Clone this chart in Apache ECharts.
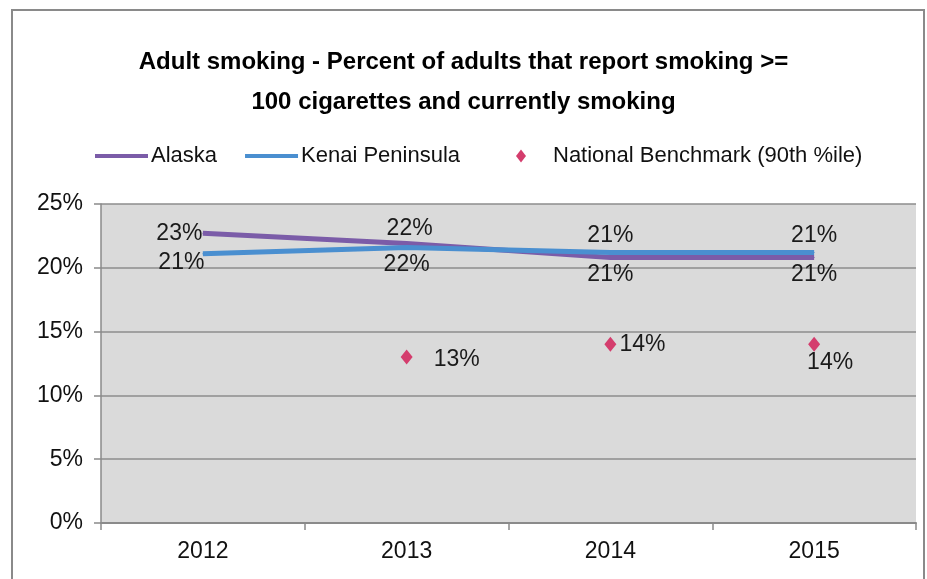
<!DOCTYPE html>
<html>
<head>
<meta charset="utf-8">
<script src="https://cdn.jsdelivr.net/npm/echarts@6/dist/echarts.min.js"></script>
<style>
  html, body { margin: 0; padding: 0; background: #fff; }
  #chart { width: 927px; height: 579px; }
</style>
</head>
<body>
<div id="chart"></div>
<script>
var years = ['2012', '2013', '2014', '2015'];
var alaska = [22.7, 21.9, 20.8, 20.8];
var kenai = [21.1, 21.6, 21.2, 21.2];
var benchmark = [null, 13, 14, 14];

// label placement per point, as in the original
var alaskaPos = ['left', 'top', 'bottom', 'bottom'];
var kenaiPos = ['left', 'bottom', 'top', 'top'];
var benchPos = [null, 'right', 'right', 'bottom'];

var font = '"Liberation Sans", Arial, sans-serif';

function pct(p) {
    return Math.round(p.value) + '%';
}

function withLabels(values, positions, extra) {
    return values.map(function (v, i) {
        if (v === null) return null;
        var lab = { position: positions[i] };
        if (extra && extra[i]) lab.offset = extra[i];
        return { value: v, label: lab };
    });
}

window.onload = function () {
    var myChart = echarts.init(document.getElementById('chart'));
    var labelStyle = {
        show: true,
        formatter: pct,
        fontFamily: font,
        fontSize: 23,
        color: '#1a1a1a',
        distance: 5
    };
    var option = {
        backgroundColor: '#fff',
        animation: false,
        graphic: [{
            type: 'rect',
            shape: { x: 12, y: 10, width: 912, height: 620 },
            style: { fill: 'none', stroke: '#8a8a8a', lineWidth: 2 },
            silent: true
        }],
        title: {
            text: 'Adult smoking - Percent of adults that report smoking >=\n100 cigarettes and currently smoking',
            left: 'center',
            top: 37,
            textStyle: {
                fontFamily: font,
                fontWeight: 'bold',
                fontSize: 24,
                lineHeight: 40,
                color: '#000'
            }
        },
        legend: [{
            data: ['Alaska', 'Kenai Peninsula'],
            left: 90,
            top: 140,
            icon: 'rect',
            itemWidth: 53,
            itemHeight: 4,
            itemGap: 28,
            textStyle: { fontFamily: font, fontSize: 22, color: '#111', padding: [0, 0, 0, -2] }
        }, {
            data: ['National Benchmark (90th %ile)'],
            left: 511,
            top: 140,
            icon: 'diamond',
            itemWidth: 10,
            itemHeight: 13,
            textStyle: { fontFamily: font, fontSize: 22, color: '#111', padding: [0, 0, 0, 22] }
        }],
        grid: {
            left: 101,
            top: 204,
            right: 11,
            bottom: 56,
            show: true,
            backgroundColor: '#dadada',
            borderWidth: 0
        },
        xAxis: [{
            type: 'category',
            data: years,
            boundaryGap: true,
            axisLine: { lineStyle: { color: '#8a8a8a', width: 2 } },
            axisTick: { show: true, length: 7, lineStyle: { color: '#8a8a8a', width: 1.5 } },
            axisLabel: { fontFamily: font, fontSize: 23, color: '#111', margin: 17 }
        }],
        yAxis: [{
            type: 'value',
            min: 0,
            max: 25,
            interval: 5,
            axisLine: { show: true, lineStyle: { color: '#8a8a8a', width: 1.5 } },
            axisTick: { show: true, length: 7, lineStyle: { color: '#8a8a8a', width: 1.5 } },
            axisLabel: { formatter: '{value}%', fontFamily: font, fontSize: 23, color: '#111', margin: 18 },
            splitLine: { show: true, lineStyle: { color: '#8c8c8c', width: 1.5 } }
        }],
        series: [{
            name: 'Alaska',
            type: 'line',
            symbol: 'circle',
            symbolSize: 1,
            color: '#7b5ca8',
            lineStyle: { width: 5, color: '#7b5ca8' },
            label: labelStyle,
            data: withLabels(alaska, alaskaPos, [[5, 0], [3, 2], null, null])
        }, {
            name: 'Kenai Peninsula',
            type: 'line',
            symbol: 'circle',
            symbolSize: 1,
            color: '#4a8fd0',
            lineStyle: { width: 5, color: '#4a8fd0' },
            label: labelStyle,
            data: withLabels(kenai, kenaiPos, [[7, 9], null, null, null])
        }, {
            name: 'National Benchmark (90th %ile)',
            type: 'line',
            symbol: 'diamond',
            symbolSize: [12, 15],
            color: '#d43d6d',
            lineStyle: { width: 0, opacity: 0 },
            label: labelStyle,
            data: withLabels(benchmark, benchPos, [null, [16, 3], [-2, 0], [16, -6]])
        }]
    };
    myChart.setOption(option);
};
</script>
</body>
</html>
